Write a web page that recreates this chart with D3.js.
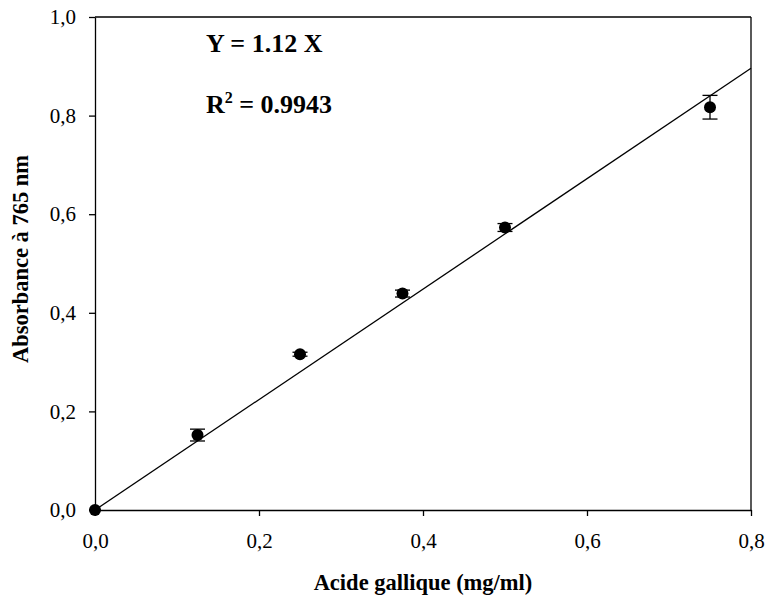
<!DOCTYPE html>
<html><head><meta charset="utf-8">
<script src="https://cdn.jsdelivr.net/npm/d3@7"></script>
<style>body{margin:0;background:#fff}</style>
</head><body>
<svg id="c" width="766" height="601" style="font-family:'Liberation Serif',serif"></svg>
<script>
const concentrations = [0, 0.125, 0.25, 0.375, 0.5, 0.75];
const absorbance = [0, 0.152, 0.316, 0.439, 0.573, 0.817];
const errors = [0, 0.012, 0.004, 0.007, 0.008, 0.024];
const slope = 1.12;
const xTicks = [0, 0.2, 0.4, 0.6, 0.8];
const yTicks = [0, 0.2, 0.4, 0.6, 0.8, 1.0];

const FONT = "Liberation Serif";
const svg = d3.select("#c");
const m = {l:95, r:751, t:17, b:510};
const x = d3.scaleLinear().domain([0,0.8]).range([m.l,m.r]);
const y = d3.scaleLinear().domain([0,1]).range([m.b,m.t]);
const fmt = d => d3.format(".1f")(d).replace(".", ",");

const gx = svg.append("g").attr("transform",`translate(0,${m.b})`)
  .call(d3.axisBottom(x).tickValues(xTicks).tickFormat(fmt).tickSize(6).tickSizeOuter(0).tickPadding(17));
const gy = svg.append("g").attr("transform",`translate(${m.l},0)`)
  .call(d3.axisLeft(y).tickValues(yTicks).tickFormat(fmt).tickSize(6).tickSizeOuter(0).tickPadding(13));
[gx,gy].forEach(g=>{
  g.attr("font-family",FONT).attr("font-size",21);
  g.selectAll("path,line").attr("stroke","#000").attr("stroke-width",1.3);
  g.selectAll("text").attr("fill","#000");
});
svg.append("line").attr("x1",m.l).attr("x2",m.r).attr("y1",m.t).attr("y2",m.t).attr("stroke","#000").attr("stroke-width",1.3);
svg.append("line").attr("x1",m.r).attr("x2",m.r).attr("y1",m.t).attr("y2",m.b).attr("stroke","#000").attr("stroke-width",1.3);

svg.append("line").attr("x1",x(0)).attr("y1",y(0)).attr("x2",x(0.8)).attr("y2",y(slope*0.8))
  .attr("stroke","#000").attr("stroke-width",1.3);

const data = concentrations.map((c,i)=>({c, a:absorbance[i], e:errors[i]}));
const eb = svg.append("g").attr("stroke","#000").attr("stroke-width",1.3);
data.filter(d=>d.e>0).forEach(d=>{
  eb.append("line").attr("x1",x(d.c)).attr("x2",x(d.c)).attr("y1",y(d.a-d.e)).attr("y2",y(d.a+d.e));
  [d.a-d.e,d.a+d.e].forEach(v=>eb.append("line").attr("x1",x(d.c)-7.5).attr("x2",x(d.c)+7.5).attr("y1",y(v)).attr("y2",y(v)));
});
svg.append("g").selectAll("circle").data(data).join("circle")
  .attr("cx",d=>x(d.c)).attr("cy",d=>y(d.a)).attr("r",6).attr("fill","#000");

const ann = svg.append("g").attr("font-family",FONT).attr("font-weight","bold").attr("font-size",26);
ann.append("text").attr("x",206).attr("y",52).text("Y = 1.12 X");
const r2 = ann.append("text").attr("x",206).attr("y",113);
r2.append("tspan").text("R");
r2.append("tspan").attr("font-size",16).attr("dy",-10).text("2");
r2.append("tspan").attr("dy",10).text(" = 0.9943");

const t = svg.append("g").attr("font-family",FONT).attr("font-weight","bold").attr("font-size",22.5);
t.append("text").attr("x",423).attr("y",590).attr("text-anchor","middle").text("Acide gallique (mg/ml)");
t.append("text").attr("transform","translate(28,259) rotate(-90)").attr("text-anchor","middle").text("Absorbance à 765 nm");
</script>
</body></html>
